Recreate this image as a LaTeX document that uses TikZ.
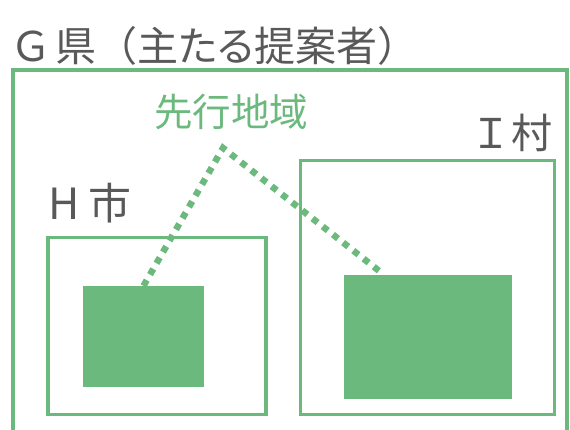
\documentclass[tikz,border=0pt]{standalone}
\usepackage{fontspec}
\setmainfont{Noto Sans CJK JP}
\definecolor{lgreen}{RGB}{107,185,125}
\definecolor{dgray}{RGB}{89,89,89}
\newcommand{\propkana}[1]{{\addfontfeature{RawFeature=+palt}#1}}
\begin{document}
\begin{tikzpicture}[x=1pt,y=-1pt,
  frame/.style={draw=lgreen,line width=3.5pt,fill=none,inner sep=0},
  area/.style={fill=lgreen,draw=none,inner sep=0},
  lbl/.style={inner sep=0,anchor=base west,text=dgray},
  link/.style={draw=lgreen,line width=6.5pt,dash pattern=on 6.5pt off 6.5pt}]
\useasboundingbox (0,0) rectangle (570,429);
\begin{scope}
\clip (0,0) rectangle (570,429);
\draw[draw=lgreen,line width=4pt] (13,440) -- (13,70) -- (567,70) -- (567,440);
\end{scope}
\node[lbl,font=\fontsize{41}{41}\selectfont] (title) at (10,61) {Ｇ\hspace{4pt}県（主\propkana{たる}提案者）};
\node[frame,minimum width=218pt,minimum height=177pt] (hbox) at (157,326) {};
\node[frame,minimum width=254pt,minimum height=254pt] (ibox) at (427.5,287.5) {};
\node[area,minimum width=121pt,minimum height=101pt] (lfill) at (143.5,336.5) {};
\node[area,minimum width=168pt,minimum height=124pt] (rfill) at (428,337) {};
\node[lbl,font=\fontsize{43}{43}\selectfont] (hlbl) at (48,219) {H\hspace{9pt}市};
\node[lbl,font=\fontsize{41}{41}\selectfont] (ilbl) at (470,148) {Ｉ村};
\node[lbl,text=lgreen,font=\fontsize{38.5}{38.5}\selectfont] (sensh) at (154,126) {先行地域};
\coordinate (apex) at (223,148);
\coordinate (rend) at (383,274);
\draw[link] (lfill.north) -- (apex) -- (rend);
\end{tikzpicture}
\end{document}
